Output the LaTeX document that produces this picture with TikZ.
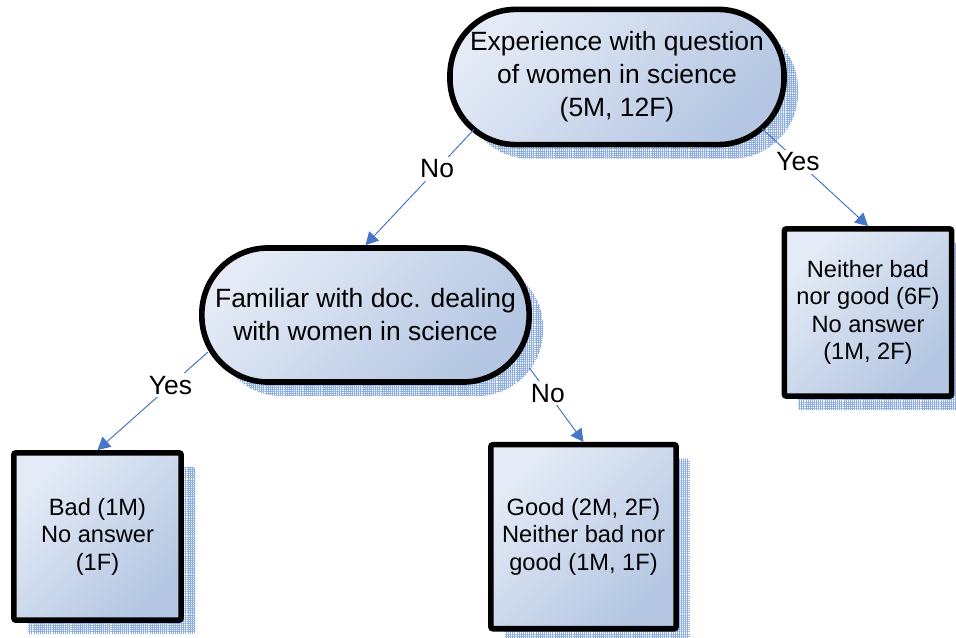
\documentclass[tikz,border=0pt]{standalone}
\usepackage{fontspec}
\setmainfont{Liberation Sans}
\usetikzlibrary{shadows,patterns.meta,arrows.meta}

\definecolor{fillLight}{RGB}{228,235,246}
\definecolor{fillDark}{RGB}{180,198,226}
\definecolor{shadowBlue}{RGB}{140,172,228}
\definecolor{lineBlue}{RGB}{70,118,198}

\begin{document}
\begin{tikzpicture}[x=0.025cm, y=-0.025cm,
    question/.style={rectangle, rounded corners=1.65cm, draw=black, line width=4pt,
      top color=fillLight, bottom color=fillDark, shading angle=45, align=center,
      font=\fontsize{18.8}{23.5}\selectfont,
      general shadow={shadow xshift=10pt, shadow yshift=-10pt,
        pattern={Hatch[distance=1.5pt, line width=0.3pt]}, pattern color=shadowBlue}},
    answer/.style={rectangle, rounded corners=1.5pt, draw=black, line width=4pt,
      top color=fillLight, bottom color=fillDark, shading angle=45, align=center,
      font=\fontsize{16.8}{19.6}\selectfont,
      minimum width=4.18cm, minimum height=4.18cm,
      general shadow={shadow xshift=10pt, shadow yshift=-10pt,
        pattern={Hatch[distance=1.5pt, line width=0.3pt]}, pattern color=shadowBlue}},
    link/.style={draw=lineBlue, line width=0.7pt, -{Triangle[length=9pt, width=9.5pt]}},
    choice/.style={fill=white, inner sep=2pt, pos=.34, font=\fontsize{18.8}{22}\selectfont}]
  \useasboundingbox (0,0) rectangle (956,638);

  % decision nodes
  \node[question, minimum width=8.35cm, minimum height=3.38cm] (root) at (617,77)
    {Experience with question\\of women in science\\(5M, 12F)};
  \node[question, minimum width=8.18cm, minimum height=3.35cm] (mid) at (365.5,315)
    {Familiar with doc. dealing\\with women in science};

  % outcomes
  \node[answer] (right) at (868,312.5)
    {Neither bad\\nor good (6F)\\No answer\\(1M, 2F)};
  \node[answer] (left) at (97.5,536.5)
    {Bad (1M)\\No answer\\(1F)};
  \node[answer, minimum width=4.63cm, minimum height=4.6cm] (middle) at (583.5,536.7)
    {Good (2M, 2F)\\Neither bad nor\\good (1M, 1F)};

  % branches
  \draw[link] ([shift={(-143,52.5)}]root.center) -- node[choice] (rootNo) {No} (mid.north);
  \draw[link] ([shift={(145,51.5)}]root.center) -- node[choice] (rootYes) {Yes} (right.north);
  \draw[link] ([shift={(-157.5,37)}]mid.center) -- node[choice] (midYes) {Yes} (left.north);
  \draw[link] ([shift={(164,53)}]mid.center) -- node[choice] (midNo) {No} (middle.north);
\end{tikzpicture}
\end{document}
